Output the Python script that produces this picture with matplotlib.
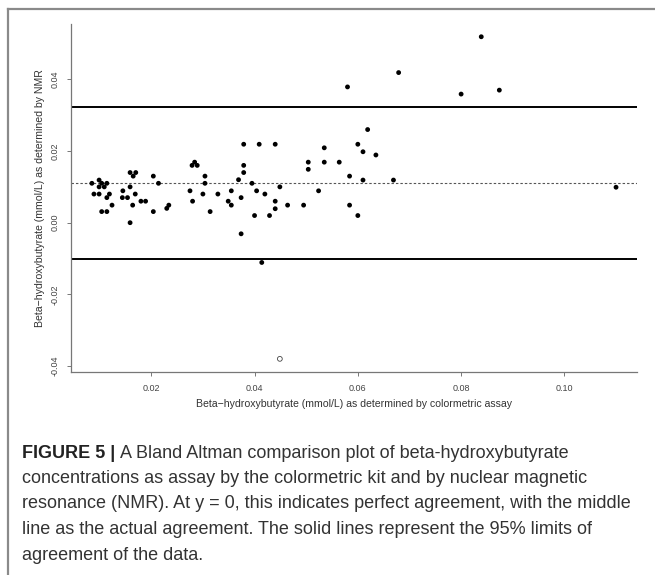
import numpy as np
import matplotlib
matplotlib.use('Agg')
import matplotlib.pyplot as plt
from matplotlib.lines import Line2D

plt.rcParams['font.family'] = ['Liberation Sans', 'DejaVu Sans']

# mean of the two methods (x) and difference NMR - colorimetric (y)
mean_conc = [0.0085, 0.0099, 0.0104, 0.0099, 0.0109, 0.0114, 0.0089, 0.0099, 0.0119, 0.0114,
             0.0124, 0.0104, 0.0114, 0.0145, 0.0144, 0.0154, 0.0159, 0.0159, 0.0170, 0.0165,
             0.0169, 0.0164, 0.0159, 0.0180, 0.0189, 0.0204, 0.0214, 0.0204, 0.0230, 0.0234,
             0.0279, 0.0284, 0.0289, 0.0275, 0.0280, 0.0304, 0.0304, 0.0300, 0.0314, 0.0329,
             0.0349, 0.0355, 0.0355, 0.0374, 0.0369, 0.0379, 0.0379, 0.0379, 0.0374, 0.0395,
             0.0404, 0.0400, 0.0409, 0.0440, 0.0420, 0.0429, 0.0440, 0.0440, 0.0449, 0.0464,
             0.0495, 0.0504, 0.0504, 0.0524, 0.0535, 0.0535, 0.0564, 0.0584, 0.0584, 0.0600,
             0.0610, 0.0610, 0.0600, 0.0635, 0.0414, 0.0580, 0.0679, 0.0839, 0.0800, 0.0874,
             0.0619, 0.0669, 0.1100]
diff_conc = [0.0110, 0.0119, 0.0110, 0.0100, 0.0100, 0.0110, 0.0080, 0.0080, 0.0080, 0.0070,
             0.0049, 0.0031, 0.0031, 0.0089, 0.0070, 0.0070, 0.0100, 0.0140, 0.0140, 0.0130,
             0.0080, 0.0049, 0.0000, 0.0060, 0.0060, 0.0130, 0.0110, 0.0031, 0.0040, 0.0049,
             0.0160, 0.0169, 0.0160, 0.0089, 0.0060, 0.0130, 0.0110, 0.0080, 0.0031, 0.0080,
             0.0060, 0.0049, 0.0089, 0.0070, 0.0120, 0.0140, 0.0160, 0.0219, -0.0031, 0.0110,
             0.0089, 0.0020, 0.0219, 0.0219, 0.0080, 0.0020, 0.0060, 0.0039, 0.0100, 0.0049,
             0.0049, 0.0169, 0.0149, 0.0089, 0.0209, 0.0169, 0.0169, 0.0130, 0.0049, 0.0219,
             0.0198, 0.0119, 0.0020, 0.0189, -0.0111, 0.0379, 0.0419, 0.0519, 0.0359, 0.0370,
             0.0260, 0.0119, 0.0099]

# the one open-circle point
outlier_x = [0.0449]
outlier_y = [-0.0380]

mean_diff = 0.0111
upper_loa = 0.0323
lower_loa = -0.0102

x_ticks = [0.02, 0.04, 0.06, 0.08, 0.10]
y_ticks = [-0.04, -0.02, 0.00, 0.02, 0.04]

caption_lines = [
    "A Bland Altman comparison plot of beta-hydroxybutyrate",
    "concentrations as assay by the colormetric kit and by nuclear magnetic",
    "resonance (NMR). At y = 0, this indicates perfect agreement, with the middle",
    "line as the actual agreement. The solid lines represent the 95% limits of",
    "agreement of the data.",
]

W, H = 655, 575
fig = plt.figure(figsize=(W / 100, H / 100), dpi=100)

ax = fig.add_axes([70.7 / W, 1 - 372 / H, 566 / W, 348 / H])
ax.set_xlim(0.0044, 0.1140)
ax.set_ylim(-0.04167, 0.05546)

ax.axhline(upper_loa, color='black', lw=1.4)
ax.axhline(lower_loa, color='black', lw=1.4)
ax.axhline(mean_diff, color='#555555', lw=0.8, ls=(0, (2.2, 1.8)))

ax.scatter(mean_conc, diff_conc, s=12, color='black', edgecolors='none', zorder=3)
ax.scatter(outlier_x, outlier_y, s=12, facecolors='none', edgecolors='#444444', linewidths=0.6, zorder=3)

for side in ['top', 'right']:
    ax.spines[side].set_visible(False)
for side in ['left', 'bottom']:
    ax.spines[side].set_color('#777777')
    ax.spines[side].set_linewidth(0.9)

ax.set_xticks(x_ticks)
ax.set_xticklabels(['%.2f' % v for v in x_ticks])
ax.set_yticks(y_ticks)
ax.set_yticklabels(['%.2f' % v for v in y_ticks], rotation=90, va='center')
ax.tick_params(direction='out', length=3.2, width=0.7, color='#777777',
               labelsize=6.5, labelcolor='#444444')
ax.tick_params(axis='x', pad=5.5)
ax.tick_params(axis='y', pad=5)

ax.set_xlabel('Beta\u2212hydroxybutyrate (mmol/L) as determined by colormetric assay',
              fontsize=7.6, color='#333333', labelpad=4)
ax.set_ylabel('Beta\u2212hydroxybutyrate (mmol/L) as determined by NMR',
              fontsize=7.6, color='#333333', labelpad=4)

# gray frame at top and left of the panel
fig.add_artist(Line2D([8 / W, 1], [1 - 9 / H, 1 - 9 / H], color='#8a8a8a', lw=1.6))
fig.add_artist(Line2D([8 / W, 8 / W], [0, 1 - 9 / H], color='#8a8a8a', lw=1.6))

# caption: bold label then regular text
cap_x = 22 / W
cap_size = 13.0
line_y = [453, 478.5, 504, 529.5, 555]
bold = fig.text(cap_x, 1 - line_y[0] / H, 'FIGURE 5 | ', fontsize=cap_size, fontweight='bold',
                color='#222222', va='center')
renderer = fig.canvas.get_renderer()
bb = bold.get_window_extent(renderer=renderer)
fig.text(bb.x1 / W, 1 - line_y[0] / H, caption_lines[0], fontsize=cap_size, color='#333333', va='center')
for i in range(1, len(caption_lines)):
    fig.text(cap_x, 1 - line_y[i] / H, caption_lines[i], fontsize=cap_size, color='#333333', va='center')

fig.savefig('out.png', dpi=100)
